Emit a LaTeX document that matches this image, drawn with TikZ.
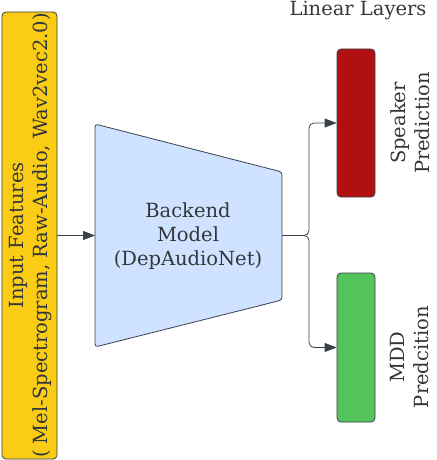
\documentclass[tikz,border=0pt]{standalone}
\usepackage{fontspec}
\setmainfont{DejaVu Serif}
\usetikzlibrary{arrows.meta}
\definecolor{ink}{RGB}{51,55,60}
\definecolor{lineclr}{RGB}{59,64,72}
\definecolor{yel}{RGB}{250,204,21}
\definecolor{blu}{RGB}{207,226,255}
\definecolor{redc}{RGB}{176,16,16}
\definecolor{grn}{RGB}{85,196,92}
\tikzset{
  box/.style={draw=lineclr, line width=0.8pt, rounded corners=4pt, inner sep=0pt},
  lbl/.style={text=ink, font=\fontsize{19.5}{24}\selectfont, align=center, inner sep=0pt},
  conn/.style={draw=lineclr, line width=0.8pt, rounded corners=5pt, -{Triangle[length=12pt,width=9pt]}},
}
\begin{document}
\begin{tikzpicture}[x=1pt,y=-1pt]
\useasboundingbox (0,0) rectangle (436,460);
% input features
\node[box, fill=yel, minimum width=55pt, minimum height=447pt] (inp) at (29.5,235.5) {};
\node[lbl, rotate=90] (inptxt) at (30.5,235.5) {Input Features\\( Mel-Spectrogram, Raw-Audio, Wav2vec2.0)};
% backend trapezoid
\draw[draw=lineclr, line width=0.8pt, fill=blu, rounded corners=3pt]
  (95,124) -- (282,172) -- (282,300) -- (95,347) -- cycle;
\node[lbl] (back) at (188,236) {Backend\\Model\\(DepAudioNet)};
\coordinate (bkw) at (95,235.5);
\coordinate (bke) at (282,235.5);
\coordinate (split) at (309,235.5);
% linear layers
\node[lbl] (lin) at (358,10) {Linear Layers};
\node[box, fill=redc, minimum width=38pt, minimum height=148pt] (spk) at (356,123) {};
\node[box, fill=grn, minimum width=38pt, minimum height=149pt] (mdd) at (356,347.5) {};
\node[lbl, rotate=90] (spktxt) at (410,123) {Speaker\\Prediction};
\node[lbl, rotate=90] (mddtxt) at (410,357) {MDD\\Predcition};
% connectors
\draw[conn] (inp.east |- bkw) -- (bkw);
\draw[conn] (bke) -- (split) |- (spk.west);
\draw[conn] (bke) -- (split) |- (mdd.west);
\end{tikzpicture}
\end{document}
